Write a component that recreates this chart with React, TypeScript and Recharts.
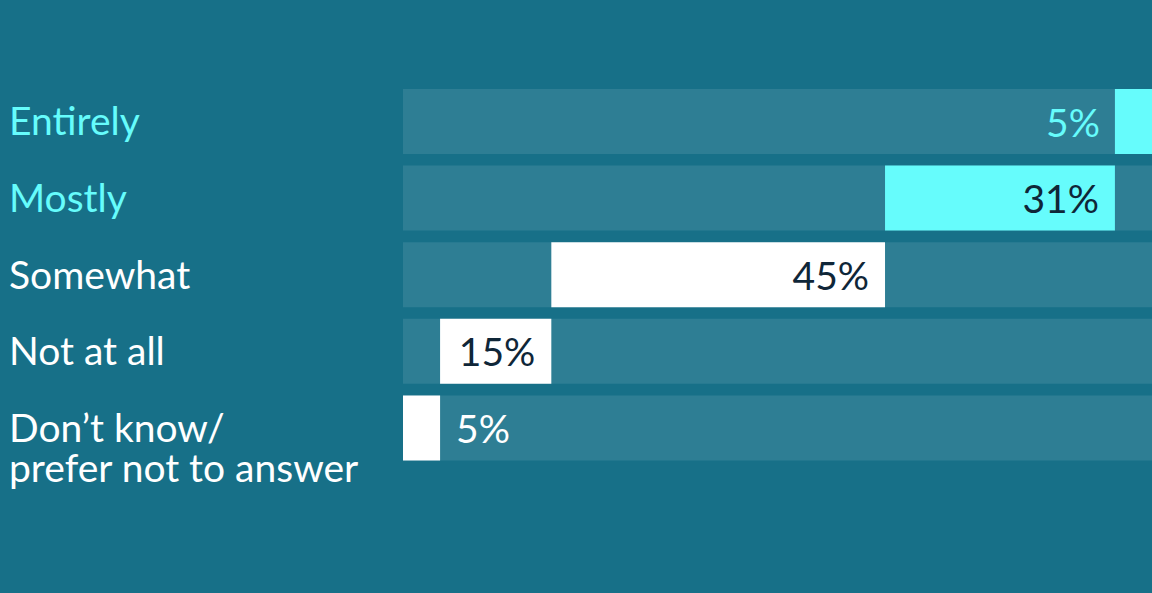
import { Bar, BarChart, Cell, LabelList, XAxis, YAxis } from "recharts";

// survey answers, top to bottom
const categories = [
  "Entirely",
  "Mostly",
  "Somewhat",
  "Not at all",
  "Don’t know/\nprefer not to answer",
];
const shares = [5, 31, 45, 15, 5];
const total = 101;

const BG = "#177088";
const TRACK = "#2e7e94";
const CYAN = "#66fcfc";
const DARK = "#0f2638";
const FONT = "Lato, 'Open Sans', sans-serif";

const barColor = (i: number) => (i < 2 ? CYAN : "#ffffff");

// each segment starts where the answers below it end
const chartData = categories.map((name, i) => ({
  name,
  offset: shares.slice(i + 1).reduce((a, b) => a + b, 0),
  value: shares[i],
}));

const CategoryTick = (props: any) => {
  const { y, payload, index } = props;
  const lines = String(payload.value).split("\n");
  return (
    <text
      x={9}
      y={y + 14}
      fill={barColor(index)}
      fontSize={39}
      fontFamily={FONT}
      textAnchor="start"
    >
      {lines.map((line, i) => (
        <tspan key={i} x={9} dy={i === 0 ? 0 : 40}>
          {line}
        </tspan>
      ))}
    </text>
  );
};

const ValueLabel = (props: any) => {
  const { x, y, width, height, value, index } = props;
  const cy = y + height / 2 + 15;
  const small = width < 70;
  if (!small) {
    return (
      <text x={x + width - 16} y={cy} textAnchor="end" fill={DARK} fontSize={39} fontFamily={FONT}>
        {`${value}%`}
      </text>
    );
  }
  const roomRight = x + width + 120 < 1152;
  return (
    <text
      x={roomRight ? x + width + 16 : x - 15}
      y={cy}
      textAnchor={roomRight ? "start" : "end"}
      fill={barColor(index)}
      fontSize={39}
      fontFamily={FONT}
    >
      {`${value}%`}
    </text>
  );
};

export default function App() {
  return (
    <div style={{ position: "absolute", left: 0, top: 0, width: 1152, height: 593, background: BG }}>
      <BarChart
        width={1152}
        height={593}
        data={chartData}
        layout="vertical"
        margin={{ top: 83, right: 0, left: 0, bottom: 127 }}
      >
        <XAxis type="number" domain={[0, total]} hide />
        <YAxis
          type="category"
          dataKey="name"
          width={403}
          axisLine={false}
          tickLine={false}
          tick={<CategoryTick />}
          interval={0}
        />
        <Bar
          dataKey="offset"
          stackId="s"
          fill="transparent"
          barSize={65}
          isAnimationActive={false}
        />
        <Bar
          dataKey="value"
          stackId="s"
          barSize={65}
          background={{ fill: TRACK }}
          isAnimationActive={false}
        >
          {chartData.map((d, i) => (
            <Cell key={d.name} fill={barColor(i)} />
          ))}
          <LabelList dataKey="value" content={<ValueLabel />} />
        </Bar>
      </BarChart>
    </div>
  );
}
